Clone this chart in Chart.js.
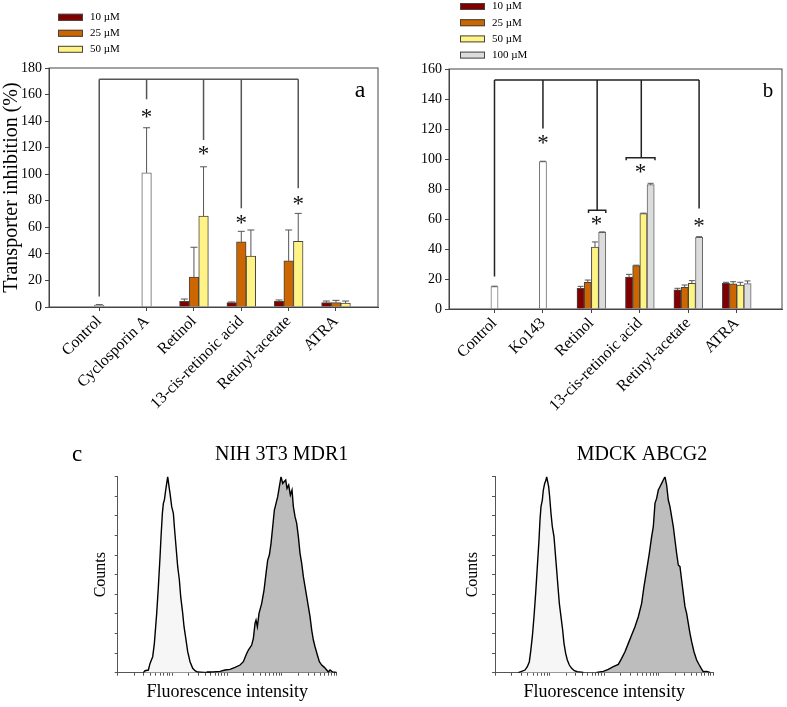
<!DOCTYPE html>
<html>
<head>
<meta charset="utf-8">
<script src="https://cdn.jsdelivr.net/npm/chart.js@4.4.1/dist/chart.umd.min.js"></script>
<style>
  html, body { margin: 0; padding: 0; background: #fff; }
  #wrap { position: relative; width: 787px; height: 707px; }
  canvas { position: absolute; }
</style>
</head>
<body>
<div id="wrap">
  <canvas id="chartA" width="392" height="420" style="left:0;top:0"></canvas>
  <canvas id="chartB" width="395" height="420" style="left:392px;top:0"></canvas>
  <canvas id="chartC1" width="392" height="287" style="left:0;top:420px"></canvas>
  <canvas id="chartC2" width="395" height="287" style="left:392px;top:420px"></canvas>
</div>
<script>
const serif = "'Liberation Serif', 'Times New Roman', serif";

const doses = ["10 µM", "25 µM", "50 µM", "100 µM"];

// panel a - MDR1
const drugsA = ["Control", "Cyclosporin A", "Retinol", "13-cis-retinoic acid", "Retinyl-acetate", "ATRA"];
const refA = [1.5, 101, null, null, null, null];
const refErrA = [0.3, 34, null, null, null, null];
const a10 = [null, null, 4.3, 3.3, 4.3, 3.3];
const a10Err = [null, null, 1.7, 0.5, 1.0, 1.2];
const a25 = [null, null, 22.6, 49, 34.7, 3.3];
const a25Err = [null, null, 22.4, 8, 23.3, 1.7];
const a50 = [null, null, 68.5, 38.4, 49.5, 3];
const a50Err = [null, null, 37.1, 19.6, 21, 1.5];

// panel b - ABCG2
const drugsB = ["Control", "Ko143", "Retinol", "13-cis-retinoic acid", "Retinyl-acetate", "ATRA"];
const refB = [14.9, 98.2, null, null, null, null];
const refErrB = [0.3, 0.3, null, null, null, null];
const b10 = [null, null, 13.8, 21.3, 12.7, 17.1];
const b10Err = [null, null, 1.3, 1.8, 1.1, 0.7];
const b25 = [null, null, 17.8, 28.9, 14.4, 16.7];
const b25Err = [null, null, 1.5, 0.3, 1.6, 1.5];
const b50 = [null, null, 41.3, 63.6, 17.1, 16];
const b50Err = [null, null, 3.4, 0.3, 1.8, 1.8];
const b100 = [null, null, 51.1, 82.9, 47.8, 16.9];
const b100Err = [null, null, 0.3, 0.9, 0.4, 1.8];

// significance marks (category, offset in bar widths, y value)
const sigA = {
  top: 171.5,
  drops: [{cat: 0, slot: 0, end: 8}, {cat: 1, slot: 0, end: 156.4}, {cat: 2, slot: 1, end: 125.7},
          {cat: 3, slot: 0, end: 74.3}, {cat: 4, slot: 1, end: 89.4}],
  subs: [],
  stars: [{cat: 1, slot: 0, y: 146}, {cat: 2, slot: 1, y: 118}, {cat: 3, slot: 0, y: 66}, {cat: 4, slot: 1, y: 80}]
};
const sigB = {
  top: 152.7,
  drops: [{cat: 0, slot: 0, end: 21.6}, {cat: 1, slot: 0, end: 120.4}, {cat: 2, slot: 0.8, end: 65.8},
          {cat: 3, slot: 0.2, end: 100.9}, {cat: 4, slot: 1.5, end: 67}],
  subs: [{cat: 2, from: -0.4, to: 2.0, y: 65.8, tip: 64}, {cat: 3, from: -1.9, to: 2.1, y: 100.9, tip: 99.2}],
  stars: [{cat: 1, slot: 0, y: 112.7}, {cat: 2, slot: 0.7, y: 58.7}, {cat: 3, slot: 0.1, y: 94}, {cat: 4, slot: 1.5, y: 58}]
};

// panel c - flow cytometry histograms (x: fluorescence channel, y: counts)
const nihCtrlX = [77,82,92,97,105,110,117,122,127,130,134,137,140,144,147,150,154,157,162,167,170,175,180,185,189,195,199,205,210,217,225,232,239,260,280];
const nihCtrlY = [0,6,8,28,48,88,178,258,348,408,478,508,518,548,568,588,558,538,498,478,438,378,318,278,228,178,138,98,63,33,13,6,2,1,0];
const nihDyeX = [267,287,307,322,337,352,367,377,385,392,402,407,412,415,419,424,432,439,445,450,455,460,465,470,475,480,485,490,495,499,504,508,513,518,523,527,532,537,542,547,552,557,562,567,572,577,582,587,592,599,605,612,620,627,632,637,645,657];
const nihDyeY = [2,2,4,8,10,16,23,33,53,68,83,103,148,158,138,178,208,248,298,338,353,388,438,488,508,528,558,588,568,573,578,553,563,533,548,498,468,448,408,358,328,288,258,228,198,168,128,98,78,53,33,23,16,8,2,8,2,1];
const mdckCtrlX = [70,80,90,97,103,107,112,117,122,127,132,135,138,142,145,149,153,155,158,161,164,168,172,177,181,185,189,193,198,203,207,212,217,223,230,238,247,265];
const mdckCtrlY = [0,4,8,18,33,63,108,168,238,318,398,458,498,518,548,568,578,588,573,558,528,478,438,408,358,308,258,208,168,128,88,58,38,23,13,6,3,1];
const mdckDyeX = [305,325,340,355,370,380,390,400,410,420,430,440,447,455,463,470,475,480,485,490,495,500,505,510,515,520,525,530,535,540,545,550,555,560,565,570,575,580,585,590,597,605,613,620,625,635,645];
const mdckDyeY = [1,4,10,18,25,43,63,88,113,138,168,208,258,308,358,408,438,508,523,548,558,568,578,588,563,518,498,468,438,398,358,323,318,278,238,198,178,148,118,93,63,38,23,11,3,4,1];

const colors = ["#800000", "#cc6600", "#fff385", "#dcdcdc"];

function pts(ys) { return ys.map((y, i) => ({x: i, y: y})); }
function xy(xs, ys) { return xs.map((x, i) => ({x: x, y: ys[i]})); }

function barSet(label, values, errors, color, border, thick, inLegend) {
  return {
    label: label, data: pts(values), errors: errors, inLegend: inLegend,
    backgroundColor: color, borderColor: border, borderWidth: 1,
    barThickness: thick, skipNull: true
  };
}

// draws error bars, significance brackets, frame, legend and free texts
const decor = {
  id: "decor",
  afterDatasetsDraw(chart, args, o) {
    const ctx = chart.ctx, area = chart.chartArea;
    const xs = chart.scales.x, ys = chart.scales.y;
    ctx.save();
    chart.data.datasets.forEach((ds, i) => {
      if (!ds.errors) return;
      chart.getDatasetMeta(i).data.forEach((bar, j) => {
        const v = ds.data[j].y, e = ds.errors[j];
        if (v == null || e == null) return;
        const yt = ys.getPixelForValue(v + e);
        ctx.strokeStyle = o.errColor;
        ctx.lineWidth = 1;
        ctx.beginPath();
        ctx.moveTo(bar.x, bar.y);
        ctx.lineTo(bar.x, yt);
        ctx.moveTo(bar.x - o.cap / 2, yt);
        ctx.lineTo(bar.x + o.cap / 2, yt);
        ctx.stroke();
      });
    });
    if (o.sig) {
      const s = o.sig;
      const px = (c, slot) => xs.getPixelForValue(c) + slot * s.bar;
      const yTop = ys.getPixelForValue(s.top);
      const first = s.drops[0], last = s.drops[s.drops.length - 1];
      ctx.strokeStyle = s.color;
      ctx.lineWidth = s.width;
      ctx.beginPath();
      ctx.moveTo(px(first.cat, first.slot), yTop);
      ctx.lineTo(px(last.cat, last.slot), yTop);
      s.drops.forEach(d => {
        ctx.moveTo(px(d.cat, d.slot), yTop);
        ctx.lineTo(px(d.cat, d.slot), ys.getPixelForValue(d.end));
      });
      s.subs.forEach(b => {
        const y = ys.getPixelForValue(b.y), yt = ys.getPixelForValue(b.tip);
        ctx.moveTo(px(b.cat, b.from), yt);
        ctx.lineTo(px(b.cat, b.from), y);
        ctx.lineTo(px(b.cat, b.to), y);
        ctx.lineTo(px(b.cat, b.to), yt);
      });
      ctx.stroke();
      ctx.fillStyle = "#111";
      ctx.font = s.starFont;
      ctx.textAlign = "center";
      ctx.textBaseline = "alphabetic";
      s.stars.forEach(st => ctx.fillText("*", px(st.cat, st.slot), ys.getPixelForValue(st.y) + s.starDrop));
    }
    if (o.frame) {
      ctx.strokeStyle = "#444";
      ctx.lineWidth = 1;
      ctx.strokeRect(area.left, area.top, area.right - area.left, area.bottom - area.top);
    }
    ctx.restore();
  },
  afterDraw(chart, args, o) {
    const ctx = chart.ctx;
    ctx.save();
    if (o.legend) {
      const L = o.legend;
      let row = 0;
      chart.data.datasets.forEach(ds => {
        if (!ds.inLegend) return;
        const cy = L.y + row * L.step;
        ctx.fillStyle = ds.backgroundColor;
        ctx.fillRect(L.x, cy - L.h / 2, L.w, L.h);
        ctx.strokeStyle = "#444";
        ctx.lineWidth = 1;
        ctx.strokeRect(L.x + 0.5, cy - L.h / 2 + 0.5, L.w - 1, L.h - 1);
        ctx.fillStyle = "#000";
        ctx.font = L.font;
        ctx.textAlign = "left";
        ctx.textBaseline = "middle";
        ctx.fillText(ds.label, L.textX, cy);
        row++;
      });
    }
    (o.texts || []).forEach(t => {
      ctx.fillStyle = "#000";
      ctx.font = t.font;
      ctx.textAlign = t.align || "left";
      ctx.textBaseline = "alphabetic";
      ctx.fillText(t.text, t.x, t.y);
    });
    ctx.restore();
  }
};

function barOptions(cfg) {
  return {
    responsive: false,
    animation: false,
    events: [],
    layout: {padding: cfg.padding},
    plugins: {
      legend: {display: false},
      tooltip: {enabled: false},
      decor: cfg.decor
    },
    scales: {
      x: {
        type: "linear", min: cfg.xMin, max: cfg.xMax, offset: false,
        grid: {drawOnChartArea: false, drawTicks: true, tickLength: 4, color: "#444", offset: false},
        border: {color: "#444"},
        ticks: {
          autoSkip: false, minRotation: 45, maxRotation: 45, padding: 1, color: "#000",
          font: {family: serif, size: 16},
          callback: v => cfg.cats[v]
        },
        afterBuildTicks: s => { s.ticks = cfg.cats.map((c, i) => ({value: i})); },
        afterFit: s => { s.height = cfg.xHeight; }
      },
      y: {
        min: 0, max: cfg.yMax,
        grid: {drawOnChartArea: false, tickLength: 4, color: "#444"},
        border: {color: "#444"},
        ticks: {stepSize: 20, padding: 3, color: "#000", font: {family: serif, size: 14}},
        title: {display: !!cfg.yTitle, text: cfg.yTitle, color: "#000", padding: 0, font: {family: serif, size: 20}},
        afterFit: s => { s.width = cfg.yWidth; }
      }
    }
  };
}

new Chart(document.getElementById("chartA"), {
  type: "bar",
  data: {
    datasets: [
      barSet("Control", refA, refErrA, "#ffffff", "#666", 9.6, false),
      barSet(doses[0], a10, a10Err, colors[0], "#444", 9.6, true),
      barSet(doses[1], a25, a25Err, colors[1], "#444", 9.6, true),
      barSet(doses[2], a50, a50Err, colors[2], "#444", 9.6, true)
    ]
  },
  options: barOptions({
    cats: drugsA, xMin: -1.061, xMax: 5.887, yMax: 180, yWidth: 49, xHeight: 113,
    yTitle: "Transporter inhibition (%)",
    padding: {top: 68, right: 14, bottom: 0, left: 0},
    decor: {
      errColor: "#555", cap: 7, frame: true,
      sig: Object.assign({bar: 9.6, color: "#555", width: 1.5, starFont: "23px " + serif, starDrop: 10.5}, sigA),
      legend: {x: 58, y: 17.3, step: 16, w: 25, h: 7, textX: 90, font: "11px " + serif},
      texts: [{text: "a", x: 360, y: 96.7, font: "24px " + serif, align: "center"}]
    }
  }),
  plugins: [decor]
});

new Chart(document.getElementById("chartB"), {
  type: "bar",
  data: {
    datasets: [
      barSet("Control", refB, refErrB, "#ffffff", "#777", 7.2, false),
      barSet(doses[0], b10, b10Err, colors[0], "#444", 7.2, true),
      barSet(doses[1], b25, b25Err, colors[1], "#444", 7.2, true),
      barSet(doses[2], b50, b50Err, colors[2], "#444", 7.2, true),
      barSet(doses[3], b100, b100Err, colors[3], "#666", 7.2, true)
    ]
  },
  options: barOptions({
    cats: drugsB, xMin: -0.939, xMax: 5.934, yMax: 160, yWidth: 57, xHeight: 111,
    yTitle: "",
    padding: {top: 69, right: 5, bottom: 0, left: 0},
    decor: {
      errColor: "#555", cap: 6, frame: true,
      sig: Object.assign({bar: 7.2, color: "#222", width: 1.5, starFont: "23px " + serif, starDrop: 10.5}, sigB),
      legend: {x: 68, y: 6.5, step: 16.2, w: 25, h: 7, textX: 100, font: "11px " + serif},
      texts: [{text: "b", x: 376, y: 97.3, font: "21px " + serif, align: "center"}]
    }
  }),
  plugins: [decor]
});

function histChart(id, ctrl, dye, cfg) {
  const decade = cfg.xMax / 4;
  return new Chart(document.getElementById(id), {
    type: "line",
    data: {
      datasets: [
        {data: ctrl, fill: "origin", backgroundColor: "#f6f6f6", borderColor: "#000", borderWidth: 1.4, pointRadius: 0, tension: 0},
        {data: dye, fill: "origin", backgroundColor: "#bdbdbd", borderColor: "#000", borderWidth: 1.4, pointRadius: 0, tension: 0}
      ]
    },
    options: {
      responsive: false,
      animation: false,
      events: [],
      layout: {padding: cfg.padding},
      plugins: {legend: {display: false}, tooltip: {enabled: false}, decor: {texts: cfg.texts}},
      scales: {
        x: {
          type: "linear", min: 0, max: cfg.xMax,
          grid: {drawOnChartArea: false, tickLength: 3, color: "#555"},
          border: {color: "#555"},
          ticks: {display: false},
          afterBuildTicks: s => {
            const t = [];
            for (let d = 0; d < 4; d++) {
              for (let k = 1; k < 10; k++) t.push({value: (d + Math.log10(k)) * decade});
            }
            t.push({value: cfg.xMax});
            s.ticks = t;
          },
          title: {display: true, text: "Fluorescence intensity", color: "#000", padding: 0, font: {family: serif, size: 18}},
          afterFit: s => { s.height = cfg.xHeight; }
        },
        y: {
          min: 0, max: 588,
          grid: {drawOnChartArea: false, tickLength: 3, color: "#555"},
          border: {color: "#555"},
          ticks: {display: false},
          afterBuildTicks: s => {
            const t = [];
            for (let i = 0; i <= 10; i++) t.push({value: i * 58.8});
            s.ticks = t;
          },
          title: {display: true, text: "Counts", color: "#000", padding: 0, font: {family: serif, size: 16}},
          afterFit: s => { s.width = cfg.yWidth; }
        }
      }
    },
    plugins: [decor]
  });
}

histChart("chartC1", xy(nihCtrlX, nihCtrlY), xy(nihDyeX, nihDyeY), {
  xMax: 657, padding: {top: 56.7, right: 55.3, bottom: 4, left: 90.9}, yWidth: 26.8, xHeight: 30.3,
  texts: [
    {text: "c", x: 72, y: 40.7, font: "23px " + serif},
    {text: "NIH 3T3 MDR1", x: 215, y: 40, font: "20px " + serif}
  ]
});

histChart("chartC2", xy(mdckCtrlX, mdckCtrlY), xy(mdckDyeX, mdckDyeY), {
  xMax: 655, padding: {top: 56.7, right: 73.7, bottom: 4, left: 71.1}, yWidth: 31.9, xHeight: 30.3,
  texts: [
    {text: "MDCK ABCG2", x: 184.7, y: 40, font: "20px " + serif}
  ]
});
</script>
</body>
</html>
